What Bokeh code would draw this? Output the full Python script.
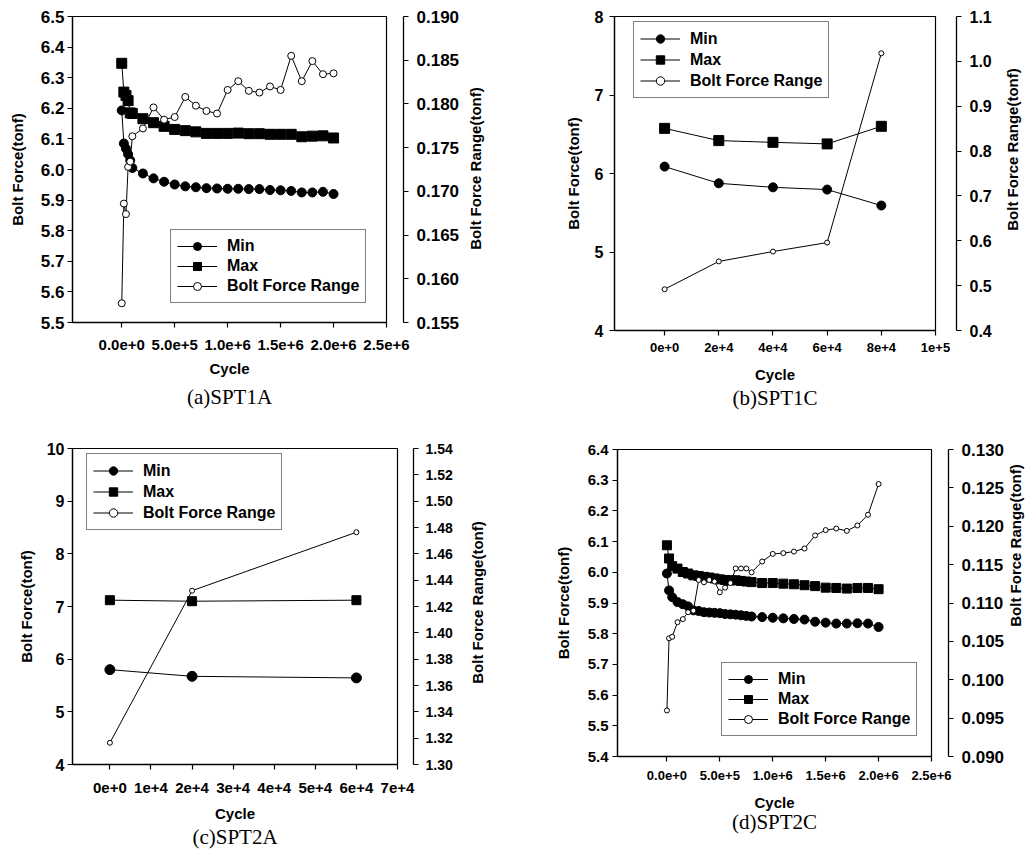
import math
from bokeh.plotting import figure
from bokeh.models import Range1d, LinearAxis, FixedTicker, Legend, LegendItem, Label
from bokeh.layouts import column, row
from bokeh.embed import file_html
from bokeh.resources import INLINE

# ---------------- data ----------------
# (a) SPT1A
a_cycle = [0, 20000, 40000, 60000, 80000, 100000, 200000, 300000, 400000, 500000,
           600000, 700000, 800000, 900000, 1000000, 1100000, 1200000, 1300000,
           1400000, 1500000, 1600000, 1700000, 1800000, 1900000, 2000000]
a_min = [6.193, 6.085, 6.068, 6.050, 6.030, 6.005, 5.987, 5.971, 5.960, 5.951,
         5.945, 5.942, 5.939, 5.938, 5.937, 5.937, 5.936, 5.936, 5.933, 5.932,
         5.930, 5.925, 5.925, 5.927, 5.920]
a_max = [6.347, 6.253, 6.242, 6.225, 6.185, 6.183, 6.166, 6.153, 6.141, 6.131,
         6.127, 6.123, 6.118, 6.118, 6.118, 6.119, 6.117, 6.117, 6.115, 6.115,
         6.115, 6.107, 6.109, 6.110, 6.103]
a_range = [0.1572, 0.1686, 0.1674, 0.1728, 0.1734, 0.1763, 0.1772, 0.1796, 0.1782, 0.1785,
           0.1808, 0.1798, 0.1792, 0.1789, 0.1816, 0.1826, 0.1815, 0.1813, 0.1820, 0.1816,
           0.1855, 0.1826, 0.1849, 0.1834, 0.1835]

# (b) SPT1C
b_cycle = [0, 20000, 40000, 60000, 80000]
b_min = [6.088, 5.875, 5.824, 5.795, 5.592]
b_max = [6.575, 6.419, 6.397, 6.377, 6.601]
b_range = [0.492, 0.554, 0.576, 0.596, 1.018]

# (c) SPT2A
c_cycle = [0, 20000, 60000]
c_min = [5.801, 5.674, 5.644]
c_max = [7.12, 7.10, 7.12]
c_range = [1.3165, 1.432, 1.4764]

# (d) SPT2C
d_cycle = [0, 20000, 50000, 100000, 150000, 200000, 250000, 300000, 350000, 400000,
           450000, 500000, 550000, 600000, 650000, 700000, 750000, 800000, 900000, 1000000,
           1100000, 1200000, 1300000, 1400000, 1500000, 1600000, 1700000, 1800000, 1900000, 2000000]
d_min = [5.996, 5.941, 5.919, 5.903, 5.896, 5.889, 5.876, 5.874, 5.870, 5.869,
         5.868, 5.867, 5.864, 5.863, 5.862, 5.860, 5.858, 5.856, 5.854, 5.852,
         5.850, 5.848, 5.846, 5.839, 5.836, 5.833, 5.833, 5.834, 5.833, 5.822]
d_max = [6.088, 6.045, 6.020, 6.012, 6.001, 5.996, 5.990, 5.988, 5.985, 5.983,
         5.980, 5.977, 5.975, 5.974, 5.974, 5.972, 5.970, 5.968, 5.965, 5.965,
         5.963, 5.961, 5.958, 5.955, 5.950, 5.949, 5.947, 5.949, 5.949, 5.945]
d_range = [0.0960, 0.1054, 0.1056, 0.1075, 0.1079, 0.1088, 0.1090, 0.1130, 0.1127, 0.1130,
           0.1128, 0.1114, 0.1120, 0.1126, 0.1145, 0.1145, 0.1145, 0.1140, 0.1154, 0.1164,
           0.1165, 0.1167, 0.1171, 0.1188, 0.1195, 0.1197, 0.1194, 0.1201, 0.1215, 0.1255]

# ---------------- tick labels ----------------
long_x_ticks = [0, 500000, 1000000, 1500000, 2000000, 2500000]
long_x_labels = ["0.0e+0", "5.0e+5", "1.0e+6", "1.5e+6", "2.0e+6", "2.5e+6"]

b_x_ticks = [0, 20000, 40000, 60000, 80000, 100000]
b_x_labels = ["0e+0", "2e+4", "4e+4", "6e+4", "8e+4", "1e+5"]
c_x_ticks = [0, 10000, 20000, 30000, 40000, 50000, 60000, 70000]
c_x_labels = ["0e+0", "1e+4", "2e+4", "3e+4", "4e+4", "5e+4", "6e+4", "7e+4"]

a_y_ticks = [5.5, 5.6, 5.7, 5.8, 5.9, 6.0, 6.1, 6.2, 6.3, 6.4, 6.5]
a_y_labels = ["5.5", "5.6", "5.7", "5.8", "5.9", "6.0", "6.1", "6.2", "6.3", "6.4", "6.5"]
a_r_ticks = [0.155, 0.160, 0.165, 0.170, 0.175, 0.180, 0.185, 0.190]
a_r_labels = ["0.155", "0.160", "0.165", "0.170", "0.175", "0.180", "0.185", "0.190"]

b_y_ticks = [4, 5, 6, 7, 8]
b_y_labels = ["4", "5", "6", "7", "8"]
b_r_ticks = [0.4, 0.5, 0.6, 0.7, 0.8, 0.9, 1.0, 1.1]
b_r_labels = ["0.4", "0.5", "0.6", "0.7", "0.8", "0.9", "1.0", "1.1"]

c_y_ticks = [4, 5, 6, 7, 8, 9, 10]
c_y_labels = ["4", "5", "6", "7", "8", "9", "10"]
c_r_ticks = [1.30, 1.32, 1.34, 1.36, 1.38, 1.40, 1.42, 1.44, 1.46, 1.48, 1.50, 1.52, 1.54]
c_r_labels = ["1.30", "1.32", "1.34", "1.36", "1.38", "1.40", "1.42", "1.44", "1.46",
              "1.48", "1.50", "1.52", "1.54"]

d_y_ticks = [5.4, 5.5, 5.6, 5.7, 5.8, 5.9, 6.0, 6.1, 6.2, 6.3, 6.4]
d_y_labels = ["5.4", "5.5", "5.6", "5.7", "5.8", "5.9", "6.0", "6.1", "6.2", "6.3", "6.4"]
d_r_ticks = [0.090, 0.095, 0.100, 0.105, 0.110, 0.115, 0.120, 0.125, 0.130]
d_r_labels = ["0.090", "0.095", "0.100", "0.105", "0.110", "0.115", "0.120", "0.125", "0.130"]

series_names = ["Min", "Max", "Bolt Force Range"]
captions = ["(a)SPT1A", "(b)SPT1C", "(c)SPT2A", "(d)SPT2C"]

SANS = "Liberation Sans"
SERIF = "Liberation Serif"


def style_axis(ax, ticks, labels, size):
    ax.ticker = FixedTicker(ticks=ticks)
    ax.major_label_overrides = {t: s for t, s in zip(ticks, labels)}
    ax.major_label_text_font = SANS
    ax.major_label_text_font_style = "bold"
    ax.major_label_text_font_size = f"{size}px"
    ax.major_label_text_color = "black"
    ax.axis_label_text_font = SANS
    ax.axis_label_text_font_style = "bold"
    ax.axis_label_text_font_size = "15px"
    ax.axis_label_text_color = "black"
    ax.axis_line_color = "black"
    ax.axis_line_width = 1.3
    ax.major_tick_line_color = "black"
    ax.major_tick_line_width = 1.2
    ax.major_tick_in = 0
    ax.major_tick_out = 5
    ax.minor_tick_line_color = None


def make_panel(cycle, mins, maxs, rng, cfg):
    p = figure(width=cfg["w"], height=cfg["h"],
               x_range=Range1d(*cfg["xr"]), y_range=Range1d(*cfg["yr"]),
               output_backend="svg", toolbar_location=None,
               min_border_left=cfg["bl"], min_border_right=cfg["br"],
               min_border_top=cfg["bt"], min_border_bottom=cfg["bb"])
    p.extra_y_ranges = {"r": Range1d(*cfg["rr"])}
    p.grid.visible = False
    p.outline_line_color = "black"
    p.outline_line_width = 1.2
    p.background_fill_color = "white"
    p.border_fill_color = "white"

    left = p.left[0]
    style_axis(left, cfg["yt"], cfg["yl"], cfg["ys"])
    left.axis_label = "Bolt Force(tonf)"
    left.major_label_standoff = cfg["ylstand"]
    left.axis_label_standoff = cfg["yastand"]

    below = p.below[0]
    style_axis(below, cfg["xt"], cfg["xl"], cfg["xs"])
    below.axis_label = "Cycle"
    below.major_label_standoff = cfg["xlstand"]
    below.axis_label_standoff = cfg["xastand"]

    # blank axis that opens the gap between the frame and the range axis
    gap = LinearAxis(y_range_name="r", ticker=FixedTicker(ticks=[]),
                     axis_line_color=None, major_tick_line_color=None,
                     minor_tick_line_color=None, major_tick_in=0, major_tick_out=0,
                     axis_label="\u00a0", axis_label_standoff=cfg["gap"] - 1,
                     axis_label_text_font_size="1px")
    p.add_layout(gap, "right")

    raxis = LinearAxis(y_range_name="r")
    style_axis(raxis, cfg["rt"], cfg["rl"], cfg["rs"])
    raxis.major_label_standoff = cfg["rlstand"]
    p.add_layout(raxis, "right")

    # range-axis title, reading bottom to top, beside the range axis
    rtitle = Label(x=0, y=cfg["rty"], x_offset=cfg["rtx"], x_units="screen", y_units="screen",
                   text="Bolt Force Range(tonf)", angle=math.pi / 2,
                   text_align="center", text_baseline="middle",
                   text_font=SANS, text_font_style="bold", text_font_size="15px",
                   text_color="black")
    p.add_layout(rtitle, "right")

    # panel caption under the cycle axis
    cap = LinearAxis(ticker=FixedTicker(ticks=[]), axis_line_color=None,
                     major_tick_line_color=None, minor_tick_line_color=None,
                     major_tick_in=0, major_tick_out=0, major_label_standoff=0,
                     axis_label=cfg["cap"], axis_label_standoff=cfg["capstand"],
                     axis_label_text_font=SERIF, axis_label_text_font_style="normal",
                     axis_label_text_font_size="21px", axis_label_text_color="black")
    p.add_layout(cap, "below")

    ms = cfg["ms"]
    l1 = p.line(cycle, mins, line_color="black", line_width=1)
    s1 = p.scatter(cycle, mins, marker="circle", size=ms[0], fill_color="black",
                   line_color="black")
    l2 = p.line(cycle, maxs, line_color="black", line_width=1)
    s2 = p.scatter(cycle, maxs, marker="square", size=ms[1], fill_color="black",
                   line_color="black")
    l3 = p.line(cycle, rng, line_color="black", line_width=1, y_range_name="r")
    s3 = p.scatter(cycle, rng, marker="circle", size=ms[2], fill_color="white",
                   line_color="black", line_width=1, y_range_name="r")

    items = [LegendItem(label=series_names[0], renderers=[l1, s1]),
             LegendItem(label=series_names[1], renderers=[l2, s2]),
             LegendItem(label=series_names[2], renderers=[l3, s3])]
    leg = Legend(items=items, location=cfg["leg"], orientation="vertical",
                 border_line_color="black", border_line_width=1.2,
                 background_fill_color="white", background_fill_alpha=1,
                 padding=6, spacing=0, margin=0,
                 glyph_width=40, glyph_height=cfg["lh"], label_height=cfg["lh"],
                 label_standoff=10, label_text_font=SANS,
                 label_text_font_style="bold", label_text_font_size="16px",
                 label_text_color="black")
    p.add_layout(leg)
    return p


cfg_a = dict(w=500, h=420, bl=72, br=114, bt=16, bb=98,
             xr=(-465000, 2500000), yr=(5.5, 6.5), rr=(0.155, 0.190),
             xt=long_x_ticks, xl=long_x_labels, xs=15,
             yt=a_y_ticks, yl=a_y_labels, ys=17,
             rt=a_r_ticks, rl=a_r_labels, rs=17,
             ylstand=3, yastand=12, xlstand=12, xastand=7,
             gap=14, rlstand=8, rtx=13, rty=154, cap=captions[0], capstand=5,
             ms=(9, 10, 7), leg=(98, 19), lh=20)
cfg_b = dict(w=531, h=420, bl=114, br=96, bt=16, bb=90,
             xr=(-18500, 100000), yr=(4, 8), rr=(0.4, 1.1),
             xt=b_x_ticks, xl=b_x_labels, xs=13,
             yt=b_y_ticks, yl=b_y_labels, ys=16,
             rt=b_r_ticks, rl=b_r_labels, rs=16,
             ylstand=6, yastand=10, xlstand=7, xastand=11,
             gap=18, rlstand=8, rtx=18, rty=181, cap=captions[1], capstand=0,
             ms=(9, 10, 5), leg=(19, 232), lh=21)
cfg_c = dict(w=500, h=431, bl=72, br=103, bt=28, bb=86,
             xr=(-9100, 70000), yr=(4, 10), rr=(1.30, 1.54),
             xt=c_x_ticks, xl=c_x_labels, xs=15,
             yt=c_y_ticks, yl=c_y_labels, ys=16,
             rt=c_r_ticks, rl=c_r_labels, rs=14,
             ylstand=3, yastand=9, xlstand=13, xastand=9,
             gap=13, rlstand=7, rtx=22, rty=162, cap=captions[2], capstand=0,
             ms=(10, 9, 5), leg=(14, 234), lh=21)
cfg_d = dict(w=531, h=431, bl=117, br=100, bt=29, bb=95,
             xr=(-467000, 2500000), yr=(5.4, 6.4), rr=(0.090, 0.130),
             xt=long_x_ticks, xl=long_x_labels, xs=13,
             yt=d_y_ticks, yl=d_y_labels, ys=15,
             rt=d_r_ticks, rl=d_r_labels, rs=17,
             ylstand=4, yastand=13, xlstand=9, xastand=11,
             gap=14, rlstand=8, rtx=8, rty=211, cap=captions[3], capstand=-4,
             ms=(9, 9, 5), leg=(104, 20), lh=20)

pa = make_panel(a_cycle, a_min, a_max, a_range, cfg_a)
pb = make_panel(b_cycle, b_min, b_max, b_range, cfg_b)
pc = make_panel(c_cycle, c_min, c_max, c_range, cfg_c)
pd = make_panel(d_cycle, d_min, d_max, d_range, cfg_d)

# each chart sits in its own box so the four frames keep their own edges
page = column(row(column(pa), column(pb), spacing=0),
              row(column(pc), column(pd), spacing=0), spacing=0)
open("out.html", "w").write(file_html(page, INLINE))
